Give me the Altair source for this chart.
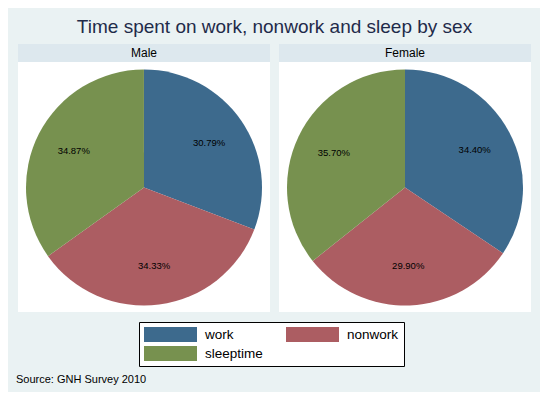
import altair as alt
import pandas as pd

categories = ["work", "nonwork", "sleeptime"]
sexes = ["Male", "Female"]
male_values = [30.79, 34.33, 34.87]
female_values = [34.40, 29.90, 35.70]
colors = ["#3d6a8d", "#ac5d62", "#77914f"]

title_text = "Time spent on work, nonwork and sleep by sex"
source_text = "Source: GNH Survey 2010"

rows = []
for sex, vals in zip(sexes, [male_values, female_values]):
    for i, (c, v) in enumerate(zip(categories, vals)):
        rows.append({"sex": sex, "cat": c, "idx": i, "value": v, "label": f"{v:.2f}%"})
df = pd.DataFrame(rows)

FONT = "Liberation Sans"
W, H = 532, 384

color_enc = alt.Color(
    "cat:N",
    scale=alt.Scale(domain=categories, range=colors),
    legend=alt.Legend(
        title=None,
        orient="none",
        legendX=131,
        legendY=314,
        direction="horizontal",
        columns=2,
        symbolType="M-1,-1H6.067V1H-1Z",
        symbolSize=225,
        symbolStrokeWidth=0,
        symbolOpacity=1,
        labelFontSize=13.5,
        labelFont=FONT,
        labelColor="#000000",
        labelOffset=46,
        columnPadding=23,
        rowPadding=4,
        padding=5,
        strokeColor="#000000",
        fillColor="#ffffff",
    ),
)

layers = []
panel_x = {"Male": 10, "Female": 271}
PW = 252
for sex in sexes:
    x0 = panel_x[sex]
    pdf = pd.DataFrame({"sex": [sex]})
    body = alt.Chart(pdf).mark_rect(fill="#ffffff").encode(
        x=alt.value(x0), x2=alt.value(x0 + PW), y=alt.value(54), y2=alt.value(304)
    )
    head = alt.Chart(pdf).mark_rect(fill="#dde8ee").encode(
        x=alt.value(x0), x2=alt.value(x0 + PW), y=alt.value(36), y2=alt.value(54)
    )
    head_txt = alt.Chart(pdf).mark_text(
        font=FONT, fontSize=12, color="#000000", baseline="alphabetic", align="center"
    ).encode(text="sex:N", x=alt.value(x0 + PW / 2), y=alt.value(49))
    cx = x0 + 126
    cy = 179.5
    sub = df[df["sex"] == sex]
    arc = alt.Chart(sub).mark_arc(radius=118, strokeWidth=0).encode(
        theta=alt.Theta("value:Q", stack=True),
        color=color_enc,
        order=alt.Order("idx:Q"),
        x=alt.value(cx),
        y=alt.value(cy),
    )
    lab = alt.Chart(sub).mark_text(
        radius=79, font=FONT, fontSize=9.5, color="#000000", baseline="middle", align="center"
    ).encode(
        theta=alt.Theta("value:Q", stack=True),
        detail="cat:N",
        order=alt.Order("idx:Q"),
        text="label:N",
        x=alt.value(cx),
        y=alt.value(cy),
    )
    layers += [body, head, head_txt, arc, lab]

tdf = pd.DataFrame({"t": [title_text]})
title = alt.Chart(tdf).mark_text(
    font=FONT, fontSize=19, color="#1f2b4a", align="center", baseline="alphabetic"
).encode(text="t:N", x=alt.value(266.5), y=alt.value(25))

sdf = pd.DataFrame({"t": [source_text]})
source = alt.Chart(sdf).mark_text(
    font=FONT, fontSize=11, color="#000000", align="left", baseline="alphabetic"
).encode(text="t:N", x=alt.value(8), y=alt.value(375))

chart = alt.layer(*layers, title, source).properties(
    width=W, height=H, autosize=alt.AutoSizeParams(type="none"), padding=0,
    background="#eaf2f3",
).configure_view(stroke=None, fill=None)

chart.save("out.html", embed_options={"renderer": "svg", "actions": False})
